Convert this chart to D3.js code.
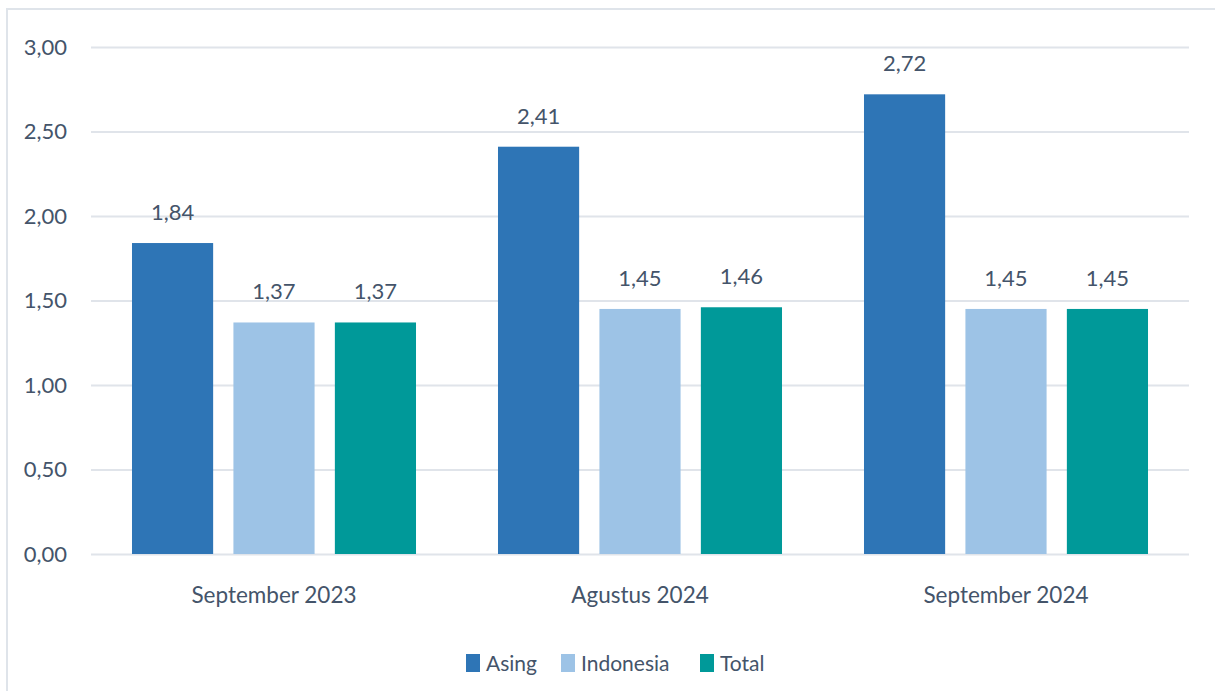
<!DOCTYPE html>
<html>
<head>
<meta charset="utf-8">
<script src="https://cdn.jsdelivr.net/npm/d3@7"></script>
<style>
  body { margin: 0; background: #fff; }
  svg text { font-family: Lato, "Open Sans", sans-serif; fill: #44546a; }
</style>
</head>
<body>
<div id="chart"></div>
<script>
var categories = ["September 2023", "Agustus 2024", "September 2024"];
var seriesNames = ["Asing", "Indonesia", "Total"];
var asing = [1.84, 2.41, 2.72];
var indonesia = [1.37, 1.45, 1.45];
var total = [1.37, 1.46, 1.45];
var yTicks = [0, 0.5, 1, 1.5, 2, 2.5, 3];
var colours = ["#2e75b6", "#9dc3e6", "#009999"];

var width = 1215, height = 691;
var margin = {left: 91, right: 26, top: 47, bottom: 137};
var values = [asing, indonesia, total];

var fmt = d => d.toFixed(2).replace('.', ',');

var svg = d3.select('#chart').append('svg')
  .attr('width', width)
  .attr('height', height);

// outer frame (only left and top visible)
svg.append('rect')
  .attr('x', 7).attr('y', 9)
  .attr('width', width + 20).attr('height', height + 20)
  .attr('fill', 'none')
  .attr('stroke', '#dfe4ea')
  .attr('stroke-width', 2);

var x0 = d3.scaleBand()
  .domain(categories)
  .range([margin.left, width - margin.right])
  .paddingInner(0.224).paddingOuter(0.112);
var x1 = d3.scaleBand()
  .domain(seriesNames)
  .range([0, x0.bandwidth()])
  .paddingInner(0.2);
var y = d3.scaleLinear()
  .domain([0, 3])
  .range([height - margin.bottom, margin.top]);

// grid + y tick labels
var yAxis = svg.append('g')
  .attr('transform', 'translate(' + margin.left + ',0)')
  .call(d3.axisLeft(y).tickValues(yTicks).tickFormat(fmt)
    .tickSize(-(width - margin.left - margin.right)).tickPadding(24));
yAxis.select('.domain').remove();
yAxis.selectAll('line').attr('stroke', '#e0e4ea').attr('stroke-width', 2);
yAxis.selectAll('text').style('font-size', '22px').attr('fill', '#44546a');

// x labels
var xAxis = svg.append('g')
  .attr('transform', 'translate(0,' + (height - margin.bottom) + ')')
  .call(d3.axisBottom(x0).tickSize(0).tickPadding(33));
xAxis.select('.domain').remove();
xAxis.selectAll('text').style('font-size', '22.5px').attr('fill', '#44546a');

var groups = svg.selectAll('.grp')
  .data(categories)
  .enter().append('g')
  .attr('transform', d => 'translate(' + x0(d) + ',0)');

var barData = (c, i) => seriesNames.map((s, j) => ({series: s, value: values[j][i], colour: colours[j]}));

groups.selectAll('rect')
  .data(barData)
  .enter().append('rect')
  .attr('x', d => x1(d.series))
  .attr('y', d => y(d.value))
  .attr('width', x1.bandwidth())
  .attr('height', d => y(0) - y(d.value))
  .attr('fill', d => d.colour);

groups.selectAll('.val')
  .data(barData)
  .enter().append('text')
  .attr('class', 'val')
  .attr('x', d => x1(d.series) + x1.bandwidth() / 2)
  .attr('y', d => y(d.value) - 23)
  .attr('text-anchor', 'middle')
  .style('font-size', '22px')
  .text(d => fmt(d.value));

// legend
var legendX = [466, 561, 700];
var legend = svg.selectAll('.leg')
  .data(seriesNames)
  .enter().append('g')
  .attr('transform', (d, i) => 'translate(' + legendX[i] + ',654)');
legend.append('rect')
  .attr('width', 14).attr('height', 18)
  .attr('fill', (d, i) => colours[i]);
legend.append('text')
  .attr('x', 20).attr('y', 17)
  .style('font-size', '21px')
  .text(d => d);
</script>
</body>
</html>
